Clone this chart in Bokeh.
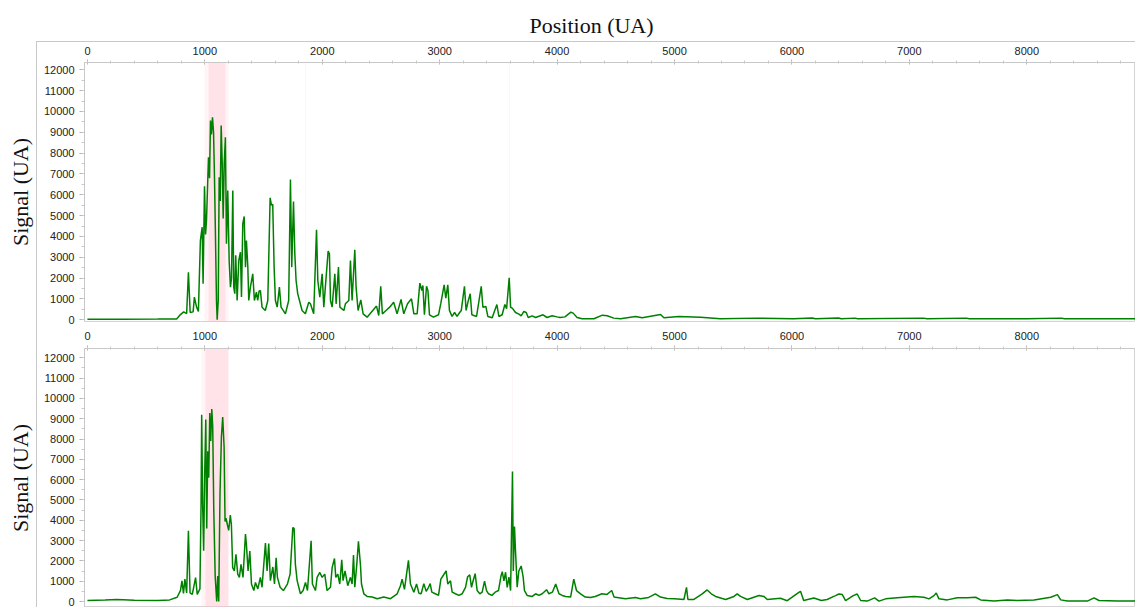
from bokeh.plotting import figure
from bokeh.models import Range1d, SingleIntervalTicker, BoxAnnotation
from bokeh.layouts import column
from bokeh.embed import file_html
from bokeh.resources import INLINE

# ---------------- data ----------------
pos_top = [0, 300, 600, 760, 792, 820, 845, 860, 875, 900,
           911, 930, 945, 962, 977, 985, 997, 1006, 1014, 1031,
           1040, 1048, 1056, 1065, 1074, 1082, 1090, 1099, 1105, 1114,
           1122, 1131, 1139, 1148, 1156, 1165, 1175, 1184, 1195, 1207,
           1218, 1227, 1238, 1246, 1255, 1263, 1275, 1289, 1303, 1312,
           1323, 1335, 1346, 1354, 1366, 1374, 1388, 1408, 1422, 1439,
           1450, 1462, 1473, 1487, 1515, 1536, 1556, 1567, 1578, 1590,
           1601, 1616, 1635, 1649, 1686, 1714, 1729, 1740, 1755, 1766,
           1777, 1791, 1806, 1828, 1856, 1885, 1899, 1927, 1951, 1962,
           1979, 1999, 2013, 2050, 2061, 2070, 2084, 2107, 2118, 2138,
           2150, 2184, 2197, 2226, 2240, 2254, 2277, 2288, 2305, 2328,
           2348, 2382, 2462, 2481, 2498, 2512, 2543, 2574, 2608, 2637,
           2671, 2694, 2726, 2760, 2780, 2808, 2831, 2848, 2857, 2870,
           2888, 2900, 2913, 2947, 2990, 3010, 3038, 3052, 3069, 3083,
           3105, 3127, 3148, 3170, 3184, 3211, 3225, 3242, 3260, 3274,
           3314, 3354, 3368, 3393, 3410, 3447, 3487, 3504, 3532, 3555,
           3570, 3592, 3604, 3618, 3646, 3675, 3694, 3717, 3737, 3754,
           3788, 3817, 3880, 3915, 3958, 3999, 4026, 4067, 4117, 4137,
           4170, 4213, 4313, 4386, 4426, 4483, 4540, 4668, 4725, 4881,
           4910, 5037, 5222, 5390, 5700, 6012, 6173, 6200, 6397, 6420,
           6538, 6560, 7121, 7150, 7485, 7510, 8000, 8295, 8320, 8600,
           8926]
sig_top = [30, 30, 35, 40, 250, 380, 300, 2285, 350, 380,
           1085, 600, 400, 3806, 4445, 1728, 6413, 4100, 4766, 7805,
           6800, 9566, 8900, 9725, 9000, 6845, 4140, 926, 0, 926,
           6845, 5700, 9326, 7500, 4860, 7500, 8765, 3648, 6206, 2846,
           1566, 2000, 6206, 1566, 1250, 3100, 930, 2846, 3246, 1090,
           4606, 4958, 2528, 3806, 2528, 926, 1566, 2208, 926, 1326,
           926, 1374, 1406, 606, 446, 926, 5856, 5500, 5540, 2528,
           926, 606, 1566, 606, 286, 926, 6734, 2528, 5678, 3200,
           1886, 1246, 926, 446, 286, 846, 766, 286, 4320, 1886,
           1086, 2208, 606, 3296, 3168, 926, 606, 2208, 766, 2528,
           606, 446, 766, 926, 2846, 926, 3360, 1566, 446, 958,
           286, 126, 658, 206, 1613, 286, 446, 606, 846, 286,
           974, 286, 766, 1006, 286, 286, 1757, 1406, 1650, 240,
           1610, 1400, 240, 126, 240, 800, 1680, 1040, 1680, 450,
           160, 350, 160, 350, 450, 1610, 450, 880, 1248, 240,
           160, 1610, 600, 640, 160, 100, 734, 160, 240, 734,
           530, 2016, 600, 560, 350, 270, 190, 400, 350, 110,
           190, 110, 240, 110, 190, 140, 110, 140, 365, 320,
           110, 50, 50, 222, 190, 80, 50, 160, 100, 254,
           100, 160, 126, 50, 80, 50, 90, 50, 90, 50,
           80, 50, 80, 50, 80, 50, 50, 80, 50, 50,
           50]

pos_bot = [0, 150, 250, 400, 600, 700, 764, 792, 805, 818,
           830, 845, 860, 874, 893, 921, 935, 958, 968, 973,
           981, 990, 998, 1008, 1016, 1025, 1033, 1042, 1050, 1059,
           1067, 1076, 1088, 1101, 1110, 1118, 1129, 1141, 1152, 1164,
           1172, 1180, 1192, 1203, 1217, 1226, 1237, 1251, 1265, 1280,
           1294, 1308, 1325, 1346, 1354, 1368, 1383, 1397, 1417, 1431,
           1451, 1473, 1487, 1516, 1530, 1544, 1558, 1579, 1593, 1607,
           1618, 1641, 1669, 1703, 1726, 1749, 1760, 1771, 1786, 1814,
           1837, 1857, 1874, 1905, 1916, 1942, 1956, 1979, 1999, 2021,
           2041, 2070, 2084, 2104, 2115, 2132, 2149, 2166, 2177, 2194,
           2217, 2240, 2254, 2266, 2277, 2294, 2308, 2325, 2334, 2354,
           2382, 2425, 2468, 2524, 2581, 2638, 2666, 2680, 2700, 2734,
           2751, 2780, 2803, 2823, 2842, 2865, 2885, 2905, 2919, 2933,
           2962, 2990, 3010, 3030, 3055, 3069, 3092, 3106, 3134, 3163,
           3191, 3220, 3238, 3256, 3271, 3285, 3302, 3319, 3342, 3362,
           3382, 3399, 3416, 3444, 3473, 3501, 3521, 3533, 3547, 3561,
           3575, 3590, 3604, 3620, 3627, 3637, 3646, 3660, 3674, 3694,
           3711, 3722, 3745, 3788, 3817, 3845, 3873, 3910, 3930, 3960,
           3988, 4016, 4044, 4073, 4115, 4142, 4165, 4200, 4240, 4283,
           4325, 4382, 4425, 4465, 4485, 4525, 4582, 4667, 4710, 4780,
           4837, 4880, 4937, 5000, 5080, 5102, 5114, 5165, 5236, 5278,
           5313, 5350, 5435, 5506, 5534, 5562, 5620, 5719, 5761, 5790,
           5902, 5960, 6059, 6073, 6100, 6187, 6250, 6300, 6352, 6372,
           6400, 6429, 6457, 6522, 6556, 6585, 6641, 6704, 6741, 6798,
           6897, 7039, 7124, 7167, 7210, 7229, 7252, 7323, 7408, 7494,
           7565, 7607, 7721, 7835, 7920, 8062, 8204, 8261, 8289, 8346,
           8516, 8573, 8615, 8772, 8926]
sig_bot = [50, 70, 100, 60, 50, 80, 209, 534, 1020, 400,
           1100, 420, 3480, 420, 350, 1180, 350, 620, 4908, 9200,
           4800, 2500, 6100, 8957, 3600, 7400, 6100, 9283, 7900, 9477,
           8600, 4500, 1250, 0, 1250, 0, 5300, 8100, 9088, 7600,
           3937, 4100, 3780, 3500, 4260, 3780, 1670, 1510, 2320, 1350,
           1190, 1830, 1190, 3320, 2800, 1510, 2480, 860, 540, 940,
           620, 1190, 700, 2882, 1510, 2850, 1030, 1700, 860, 2150,
           1190, 700, 540, 860, 1350, 3645, 3600, 1830, 1030, 380,
           540, 940, 540, 2995, 860, 540, 1190, 1430, 1190, 1350,
           540, 700, 1670, 2120, 1190, 1350, 860, 2050, 1030, 1510,
           780, 1190, 860, 2284, 700, 1830, 2963, 1830, 860, 380,
           250, 220, 140, 220, 140, 380, 777, 1100, 600, 2023,
           860, 460, 860, 410, 380, 880, 500, 700, 880, 460,
           380, 300, 1100, 1280, 1506, 860, 1020, 460, 380, 300,
           380, 700, 1220, 1312, 700, 1020, 1370, 540, 380, 460,
           1000, 540, 380, 300, 460, 540, 1230, 1473, 1020, 1440,
           700, 1200, 540, 6400, 1500, 3693, 2450, 700, 1500, 1750,
           1200, 540, 300, 250, 380, 300, 380, 580, 380, 460,
           860, 380, 300, 250, 220, 1100, 540, 380, 220, 200,
           250, 380, 350, 540, 220, 190, 140, 200, 140, 200,
           380, 220, 150, 140, 100, 695, 100, 100, 380, 570,
           380, 250, 100, 250, 380, 250, 100, 300, 250, 100,
           160, 40, 452, 500, 50, 176, 50, 100, 241, 290,
           370, 340, 49, 290, 370, 49, 20, 180, 20, 130,
           180, 241, 210, 130, 290, 420, 130, 80, 180, 180,
           210, 80, 20, 80, 49, 80, 210, 340, 80, 20,
           20, 180, 49, 20, 20]

# highlighted regions (start, end) per panel
top_band_start = [1031]
top_band_end = [1176]
top_soft_start = [997, 1176, 1853, 3591]
top_soft_end = [1031, 1201, 1861, 3599]
bot_band_start = [1005]
bot_band_end = [1201]
bot_soft_start = [971, 3616]
bot_soft_end = [1005, 3624]

x_ticks_interval = 1000
y_ticks_interval = 1000

TICK_FONT = "Liberation Sans"
TITLE_FONT = "Liberation Serif"
BORDER = "#c8c8c8"


def style_axes(p, x_standoff):
    xa = p.xaxis[0]
    xa.ticker = SingleIntervalTicker(interval=x_ticks_interval, num_minor_ticks=5)
    ya = p.yaxis[0]
    ya.ticker = SingleIntervalTicker(interval=y_ticks_interval, num_minor_ticks=2)
    for ax in (xa, ya):
        ax.axis_line_color = "#c8c8c8"
        ax.major_tick_line_color = "#b0b0b0"
        ax.minor_tick_line_color = "#c8c8c8"
        ax.major_label_text_font = TICK_FONT
        ax.major_label_text_font_size = "11px"
        ax.major_label_text_color = "#222222"
        ax.axis_label_text_font = TITLE_FONT
        ax.axis_label_text_font_size = "22px"
        ax.axis_label_text_font_style = "normal"
        ax.axis_label_text_color = "#111111"
    xa.major_tick_out = 3
    xa.major_tick_in = 2
    xa.minor_tick_out = 2
    xa.minor_tick_in = 1
    xa.major_label_standoff = x_standoff
    ya.major_tick_out = 5
    ya.major_tick_in = 0
    ya.minor_tick_out = 3
    ya.minor_tick_in = 0
    ya.major_label_standoff = 5
    ya.axis_label = "Signal (UA)"
    ya.axis_label_standoff = 8


def panel(pos, sig, b_start, b_end, s_start, s_end, height, mbt, mbb, y0, y1, x_standoff, bg):
    p = figure(width=1135, height=height,
               x_range=Range1d(-25, 8926), y_range=Range1d(y0, y1),
               x_axis_location="above", output_backend="svg", toolbar_location=None,
               min_border_left=84, min_border_right=0,
               min_border_top=mbt, min_border_bottom=mbb,
               border_fill_color=None, outline_line_color="#d4d4d4",
               styles={"background": bg})
    p.xgrid.visible = False
    p.ygrid.visible = False
    for l, r in zip(s_start, s_end):
        p.add_layout(BoxAnnotation(left=l, right=r, fill_color="pink", fill_alpha=0.18,
                                   line_color=None, level="underlay"))
    for l, r in zip(b_start, b_end):
        p.add_layout(BoxAnnotation(left=l, right=r, fill_color="pink", fill_alpha=0.45,
                                   line_color=None, level="underlay"))
    p.line(pos, sig, line_color="green", line_width=1.5)
    style_axes(p, x_standoff)
    return p


bg_top = (f"linear-gradient({BORDER},{BORDER}) 36px 41px / 1px 100% no-repeat, "
          f"linear-gradient({BORDER},{BORDER}) 36px 41px / 100% 1px no-repeat")
bg_bot = f"linear-gradient({BORDER},{BORDER}) 36px 0px / 1px 100% no-repeat"

p_top = panel(pos_top, sig_top, top_band_start, top_band_end, top_soft_start, top_soft_end,
              327, 62, 6, -82, 12350, 5, bg_top)
p_top.title.text = "Position (UA)"
p_top.title.align = "left"
p_top.title.offset = 445
p_top.title.standoff = 11
p_top.title.text_font = TITLE_FONT
p_top.title.text_font_size = "22px"
p_top.title.text_font_style = "normal"
p_top.title.text_color = "#111111"

p_bot = panel(pos_bot, sig_bot, bot_band_start, bot_band_end, bot_soft_start, bot_soft_end,
              280, 21, 0, -295, 12459, 6, bg_bot)

layout = column(p_top, p_bot, spacing=0)
open("out.html", "w").write(file_html(layout, INLINE))
